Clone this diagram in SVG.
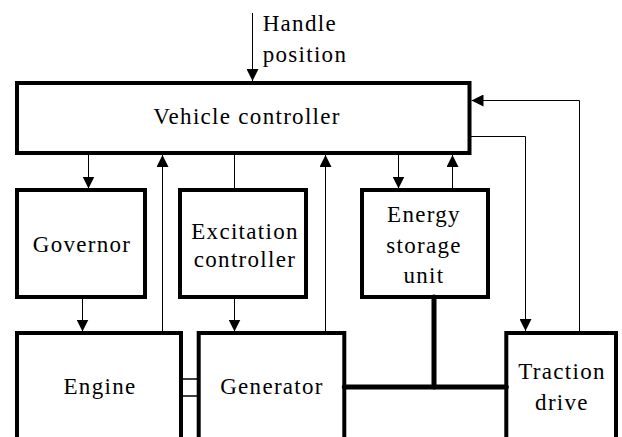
<svg xmlns="http://www.w3.org/2000/svg" width="622" height="437" viewBox="0 0 622 437" font-family="'Liberation Serif', 'Times New Roman', Times, serif">
<style>
.box{fill:#fff;stroke:#000;stroke-width:4}
.t{font-family:'Liberation Serif','Times New Roman',Times,serif;font-size:23px;letter-spacing:1.3px;fill:#000;text-anchor:middle}
.w{fill:none;stroke:#000;stroke-width:1}
.bus{fill:none;stroke:#000;stroke-width:5;stroke-linecap:round}
</style>
<defs>
<marker id="ah" viewBox="0 0 12 12" refX="12" refY="6" markerWidth="12" markerHeight="12" markerUnits="userSpaceOnUse" orient="auto">
<path d="M0,0 L12,6 L0,12 Z" fill="#000"/>
</marker>
</defs>
<g id="coupling"><rect x="181" y="379" width="18" height="17" fill="#fff" stroke="#000" stroke-width="1.5"/></g>
<g id="vehicle-controller"><rect class="box" x="17" y="83" width="452.5" height="70"/><text class="t" x="247" y="124.3">Vehicle controller</text></g>
<g id="governor"><rect class="box" x="17" y="190" width="128" height="107"/><text class="t" x="82" y="252">Governor</text></g>
<g id="excitation-controller"><rect class="box" x="180" y="190" width="126" height="107"/><text class="t" x="245" y="238.7">Excitation</text><text class="t" x="245" y="267">controller</text></g>
<g id="energy-storage"><rect class="box" x="362" y="190" width="126" height="107"/><text class="t" x="424" y="222">Energy</text><text class="t" x="424" y="252.5">storage</text><text class="t" x="424" y="283">unit</text></g>
<g id="engine"><rect class="box" x="17" y="333" width="164" height="130"/><text class="t" x="100" y="393.7">Engine</text></g>
<g id="generator"><rect class="box" x="198.7" y="333" width="145.6" height="130"/><text class="t" x="272" y="393.7">Generator</text></g>
<g id="traction-drive"><rect class="box" x="506.3" y="333" width="109.7" height="130"/><text class="t" x="562" y="378.7">Traction</text><text class="t" x="562" y="410">drive</text></g>
<g id="handle-label"><text class="t" x="262.7" y="31" style="text-anchor:start">Handle</text><text class="t" x="262.7" y="62" style="text-anchor:start">position</text></g>
<g id="connectors">
<line class="w" x1="252.5" y1="13" x2="252.5" y2="81" marker-end="url(#ah)"/>
<line class="w" x1="88.5" y1="155" x2="88.5" y2="188.5" marker-end="url(#ah)"/>
<line class="w" x1="162.5" y1="331" x2="162.5" y2="155" marker-end="url(#ah)"/>
<line class="w" x1="234.5" y1="155" x2="234.5" y2="188"/>
<line class="w" x1="82.5" y1="299" x2="82.5" y2="331.5" marker-end="url(#ah)"/>
<line class="w" x1="234.5" y1="299" x2="234.5" y2="331.5" marker-end="url(#ah)"/>
<line class="w" x1="325.5" y1="331" x2="325.5" y2="155" marker-end="url(#ah)"/>
<line class="w" x1="398.5" y1="155" x2="398.5" y2="188.5" marker-end="url(#ah)"/>
<line class="w" x1="452.5" y1="188" x2="452.5" y2="155" marker-end="url(#ah)"/>
<polyline class="w" points="471,136.5 525.5,136.5 525.5,331" marker-end="url(#ah)"/>
<polyline class="w" points="579.5,331 579.5,100.5 471.5,100.5" marker-end="url(#ah)"/>
<line class="bus" x1="344.3" y1="387" x2="506.3" y2="387"/>
<line class="bus" x1="434" y1="297" x2="434" y2="387"/>
</g>
</svg>
